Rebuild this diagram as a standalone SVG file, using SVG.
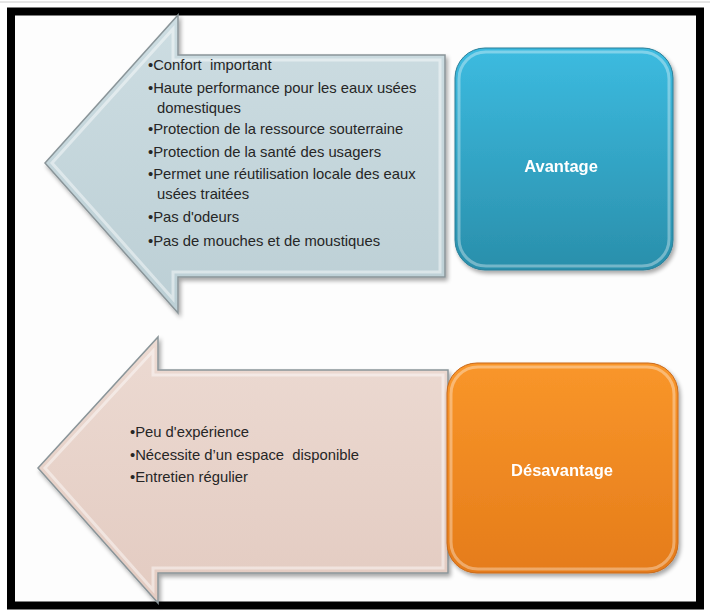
<svg xmlns="http://www.w3.org/2000/svg" width="710" height="614" viewBox="0 0 710 614">
<defs>
<linearGradient id="gBlueArrow" x1="0" y1="0" x2="0" y2="1">
<stop offset="0" stop-color="#cddde2"/><stop offset="1" stop-color="#bccfd5"/>
</linearGradient>
<linearGradient id="gPinkArrow" x1="0" y1="0" x2="0" y2="1">
<stop offset="0" stop-color="#ecdad2"/><stop offset="1" stop-color="#e3cbc1"/>
</linearGradient>
<linearGradient id="gBlue" x1="0" y1="0" x2="0" y2="1">
<stop offset="0" stop-color="#3cbbe0"/><stop offset="1" stop-color="#2a8fab"/>
</linearGradient>
<linearGradient id="gOrange" x1="0" y1="0" x2="0" y2="1">
<stop offset="0" stop-color="#f9962a"/><stop offset="1" stop-color="#e57c1a"/>
</linearGradient>
<filter id="sh" x="-10%" y="-10%" width="125%" height="125%">
<feGaussianBlur in="SourceAlpha" stdDeviation="2"/>
<feOffset dx="2" dy="3" result="b"/>
<feComponentTransfer><feFuncA type="linear" slope="0.35"/></feComponentTransfer>
<feMerge><feMergeNode/><feMergeNode in="SourceGraphic"/></feMerge>
</filter>
</defs>
<style>
.arrowOut{stroke:#8a9599;stroke-width:1.5;stroke-linejoin:miter}
.bevel{fill:none;stroke:#ffffff;stroke-opacity:0.45;stroke-width:3}
.item{font-family:"Liberation Sans",Arial,sans-serif;font-size:14.8px;fill:#262626;white-space:pre}
.label{font-family:"Liberation Sans",Arial,sans-serif;font-size:16.5px;font-weight:bold;fill:#ffffff;text-anchor:middle}
.boxBevel{fill:none;stroke:#ffffff;stroke-opacity:0.35;stroke-width:3}
</style>
<rect x="0" y="0" width="710" height="614" fill="#ffffff"/>
<line x1="0" y1="2" x2="710" y2="2" stroke="#cccccc" stroke-width="1"/>
<rect x="11" y="11.5" width="689" height="594" fill="#fdfdfd" stroke="#000000" stroke-width="8"/>

<g id="arrow-avantage" filter="url(#sh)">
<path class="arrowOut" d="M45,163 L178,15 L178,55 L445,55 L445,277 L178,277 L178,313 Z" fill="url(#gBlueArrow)"/>
<path class="bevel" d="M52,163 L173,29 L173,60 L440,60 L440,272 L173,272 L173,299 Z"/>
</g>
<g id="text-avantage">
<text class="item" x="148" y="70" xml:space="preserve">•Confort  important</text>
<text class="item" x="148" y="93">•Haute performance pour les eaux usées</text>
<text class="item" x="157" y="113">domestiques</text>
<text class="item" x="148" y="134">•Protection de la ressource souterraine</text>
<text class="item" x="148" y="157">•Protection de la santé des usagers</text>
<text class="item" x="148" y="179">•Permet une réutilisation locale des eaux</text>
<text class="item" x="157" y="199">usées traitées</text>
<text class="item" x="148" y="222">•Pas d'odeurs</text>
<text class="item" x="148" y="246">•Pas de mouches et de moustiques</text>
</g>
<g id="box-avantage" filter="url(#sh)">
<rect x="455" y="48" width="218" height="222" rx="30" fill="url(#gBlue)" stroke="#2a7f98" stroke-width="1"/>
<rect x="459" y="52" width="210" height="214" rx="27" class="boxBevel"/>
<text class="label" x="561" y="172">Avantage</text>
</g>

<g id="arrow-desavantage" filter="url(#sh)">
<path class="arrowOut" d="M38,468 L158,337 L158,370 L448,370 L448,573 L158,573 L158,603 Z" fill="url(#gPinkArrow)"/>
<path class="bevel" d="M45,468 L153,351 L153,375 L443,375 L443,568 L153,568 L153,590 Z"/>
</g>
<g id="text-desavantage">
<text class="item" x="130" y="437">•Peu d'expérience</text>
<text class="item" x="130" y="460" xml:space="preserve">•Nécessite d’un espace  disponible</text>
<text class="item" x="130" y="482">•Entretien régulier</text>
</g>
<g id="box-desavantage" filter="url(#sh)">
<rect x="447" y="363" width="231" height="210" rx="30" fill="url(#gOrange)" stroke="#c8691a" stroke-width="1"/>
<rect x="451" y="367" width="223" height="202" rx="27" class="boxBevel" stroke="#ffe08a"/>
<text class="label" x="562" y="476">Désavantage</text>
</g>
<g id="connectors"/>
</svg>
